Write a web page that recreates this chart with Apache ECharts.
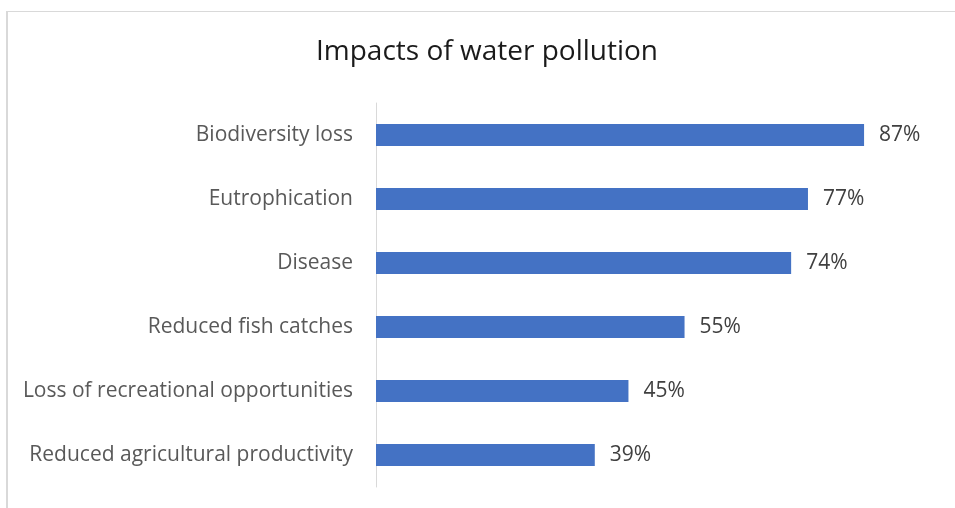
<!DOCTYPE html>
<html>
<head>
<meta charset="utf-8">
<script src="https://cdn.jsdelivr.net/npm/echarts@6/dist/echarts.min.js"></script>
<style>
  html, body { margin: 0; padding: 0; background: #fff; overflow: hidden; }
  #frame { position: absolute; left: 6px; top: 11px; width: 960px; height: 510px;
           border-left: 2px solid #d9d9d9; border-top: 1px solid #d9d9d9; }
  #chart { position: absolute; left: 0; top: 0; width: 955px; height: 508px; }
</style>
</head>
<body>
<div id="frame"></div>
<div id="chart"></div>
<script>
const titleText = 'Impacts of water pollution';
const categories = [
  'Biodiversity loss',
  'Eutrophication',
  'Disease',
  'Reduced fish catches',
  'Loss of recreational opportunities',
  'Reduced agricultural productivity'
];
const shares = [87, 77, 74, 55, 45, 39];

const FONT = '"Open Sans", "Noto Sans", sans-serif';
const chart = echarts.init(document.getElementById('chart'), null, { renderer: 'canvas' });
chart.setOption({
  backgroundColor: 'transparent',
  animation: false,
  title: {
    text: titleText,
    left: 316,
    top: 38,
    padding: 0,
    textStyle: { fontFamily: FONT, fontSize: 28, fontWeight: 'normal', color: '#1a1a1a' }
  },
  grid: { left: 376, right: 18, top: 103, bottom: 21, containLabel: false },
  xAxis: {
    type: 'value', min: 0, max: 100,
    show: false
  },
  yAxis: {
    type: 'category',
    data: categories,
    inverse: true,
    axisLine: { show: true, lineStyle: { color: '#d9d9d9', width: 1 } },
    axisTick: { show: false },
    axisLabel: { margin: 23, padding: [6, 0, 0, 0], fontFamily: FONT, fontSize: 21, color: '#595959' }
  },
  series: [{
    type: 'bar',
    data: shares,
    barWidth: 22,
    itemStyle: { color: '#4472c4' },
    label: {
      show: true,
      position: 'right',
      distance: 15,
      padding: [6, 0, 0, 0],
      formatter: p => p.value + '%',
      fontFamily: FONT, fontSize: 21, color: '#404040'
    }
  }]
});
</script>
</body>
</html>
